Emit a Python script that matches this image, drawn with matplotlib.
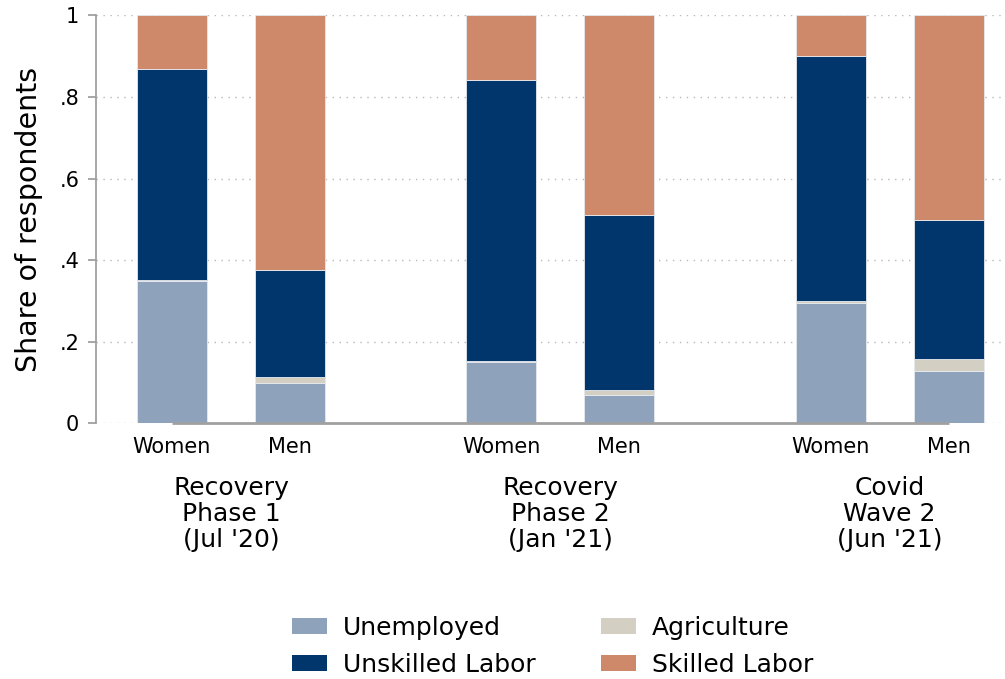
import numpy as np
import matplotlib
matplotlib.use("Agg")
import matplotlib.pyplot as plt
from matplotlib.patches import Patch
from matplotlib.transforms import blended_transform_factory

plt.rcParams['font.family'] = ['DejaVu Sans']

# Data (shares)
waves = ["Recovery\nPhase 1\n(Jul '20)", "Recovery\nPhase 2\n(Jan '21)", "Covid\nWave 2\n(Jun '21)"]
sexes = ["Women", "Men"]
unemployed = [0.349, 0.100, 0.151, 0.069, 0.295, 0.128]
agriculture = [0.002, 0.015, 0.003, 0.013, 0.006, 0.031]
unskilled = [0.519, 0.261, 0.689, 0.428, 0.599, 0.339]
skilled = [0.130, 0.624, 0.157, 0.490, 0.100, 0.502]

cats = ["Unemployed", "Agriculture", "Unskilled Labor", "Skilled Labor"]
cols = {"Unemployed": "#8ea2bc", "Agriculture": "#d3d0c3",
        "Unskilled Labor": "#00366b", "Skilled Labor": "#ce896b"}
series = {"Unemployed": unemployed, "Agriculture": agriculture,
          "Unskilled Labor": unskilled, "Skilled Labor": skilled}

# bar positions: pairs within group, groups spaced apart
group_gap = 2.79
pos = []
for g in range(len(waves)):
    for s in range(len(sexes)):
        pos.append(g * group_gap + s)
pos = np.array(pos)
width = 0.593

fig = plt.figure(figsize=(10.05, 6.79), dpi=100)
ax = fig.add_axes([0.0955, 0.3763, 0.9025, 0.6009])

# gridlines
for yv in np.arange(0, 1.01, 0.2):
    ax.axhline(yv, color="#b8b8b8", lw=1, ls=(0, (1, 4)), zorder=0)

bottom = np.zeros(len(pos))
for c in cats:
    vals = np.array(series[c])
    ax.bar(pos, vals, width, bottom=bottom, color=cols[c],
           edgecolor="#e6e9ee", linewidth=0.6, zorder=2)
    bottom += vals

# x axis line from first to last bar centre
ax.plot([pos[0], pos[-1]], [0, 0], color="#a0a0a0", lw=2, zorder=3,
        solid_capstyle="butt", clip_on=False)

ax.set_xlim(-0.644, 7.04)
ax.set_ylim(0, 1)

for sp in ["top", "right", "bottom"]:
    ax.spines[sp].set_visible(False)
ax.spines["left"].set_color("#a0a0a0")
ax.spines["left"].set_linewidth(1.3)

ax.set_yticks(np.arange(0, 1.01, 0.2))
ax.set_yticklabels(["0", ".2", ".4", ".6", ".8", "1"], fontsize=15)
ax.tick_params(axis="y", color="#a0a0a0", length=6, width=1.3, pad=6)
ax.set_ylabel("Share of respondents", fontsize=20.5, labelpad=12)

ax.set_xticks(pos)
ax.set_xticklabels(sexes * len(waves), fontsize=15)
ax.tick_params(axis="x", length=0, pad=10)

trans = blended_transform_factory(ax.transData, ax.transAxes)
for g, w in enumerate(waves):
    xc = g * group_gap + 0.5
    ax.text(xc, -0.128, w, transform=trans, ha="center", va="top",
            fontsize=18, linespacing=1.1)

order = ["Unemployed", "Unskilled Labor", "Agriculture", "Skilled Labor"]
handles = [Patch(facecolor=cols[c], edgecolor="none", label=c) for c in order]
fig.legend(handles=handles, loc="center", bbox_to_anchor=(0.55, 0.048),
           ncol=2, frameon=False, fontsize=18, handlelength=1.4,
           handleheight=0.62, columnspacing=2.6, handletextpad=0.65,
           labelspacing=0.5)

fig.savefig("out.png", dpi=100)
